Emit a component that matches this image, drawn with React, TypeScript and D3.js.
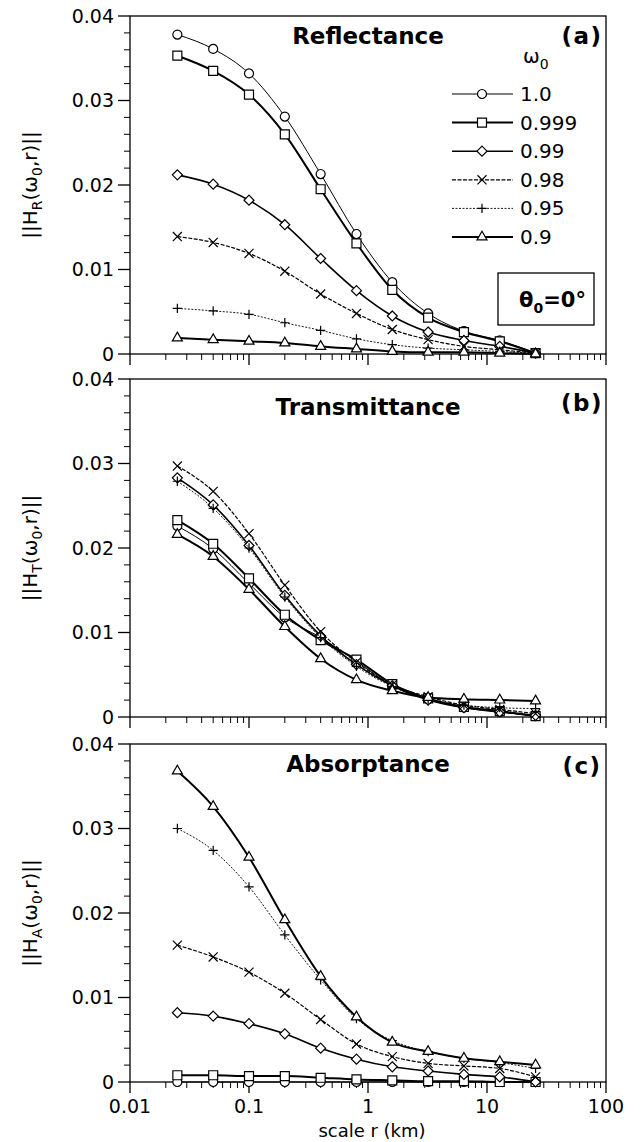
import React from 'react'
import * as d3 from 'd3'

const width = 644
const height = 1142

// scale r (km) of every point
const scales = [0.025, 0.05, 0.1, 0.2, 0.4, 0.8, 1.6, 3.2, 6.4, 12.8, 25.6]
const omegaLabels = ['1.0', '0.999', '0.99', '0.98', '0.95', '0.9']

// rows follow omegaLabels
const reflectance = [
  [0.0378, 0.0361, 0.0332, 0.0281, 0.0213, 0.0142, 0.0085, 0.0048, 0.0027, 0.0016, 0.0001],
  [0.0353, 0.0335, 0.0307, 0.026, 0.0195, 0.0131, 0.0076, 0.0043, 0.0026, 0.0015, 0.0001],
  [0.0212, 0.0201, 0.0182, 0.0153, 0.0113, 0.0075, 0.0045, 0.0026, 0.0016, 0.0009, 0.0001],
  [0.0139, 0.0132, 0.0119, 0.0098, 0.0071, 0.0048, 0.0029, 0.0017, 0.0009, 0.0005, 0.0001],
  [0.0054, 0.0051, 0.0047, 0.0037, 0.0028, 0.0018, 0.0011, 0.0007, 0.0005, 0.0003, 0.0001],
  [0.0019, 0.0017, 0.0015, 0.0013, 0.0009, 0.0006, 0.0003, 0.0002, 0.0002, 0.0001, 0.0],
]
const transmittance = [
  [0.0226, 0.0199, 0.0158, 0.0118, 0.0094, 0.0066, 0.0037, 0.0021, 0.0011, 0.0006, 0.0001],
  [0.0233, 0.0205, 0.0164, 0.0121, 0.0091, 0.0068, 0.0039, 0.0022, 0.0012, 0.0007, 0.0001],
  [0.0283, 0.0251, 0.0203, 0.0144, 0.0096, 0.0062, 0.0037, 0.002, 0.0011, 0.0006, 0.0002],
  [0.0297, 0.0267, 0.0217, 0.0156, 0.0101, 0.0065, 0.0038, 0.0024, 0.0014, 0.0009, 0.0004],
  [0.0279, 0.0247, 0.02, 0.0142, 0.0094, 0.006, 0.0036, 0.0021, 0.0014, 0.0011, 0.001],
  [0.0216, 0.019, 0.0151, 0.0107, 0.0069, 0.0044, 0.0031, 0.0023, 0.0021, 0.002, 0.0019],
]
const absorptance = [
  [0, 0, 0, 0, 0, 0, 0, 0, 0, 0, 0],
  [0.0008, 0.0008, 0.0007, 0.0007, 0.0005, 0.0003, 0.0002, 0.0001, 0.0001, 0.0, 0.0],
  [0.0082, 0.0078, 0.0069, 0.0057, 0.004, 0.0027, 0.0018, 0.0013, 0.0009, 0.0006, 0.0],
  [0.0162, 0.0148, 0.013, 0.0105, 0.0074, 0.0045, 0.003, 0.0022, 0.0019, 0.0016, 0.0006],
  [0.03, 0.0274, 0.0231, 0.0174, 0.0121, 0.0075, 0.0049, 0.0036, 0.0028, 0.0023, 0.0016],
  [0.0368, 0.0326, 0.0266, 0.0192, 0.0125, 0.0077, 0.0047, 0.0036, 0.0028, 0.0024, 0.002],
]

const yTicks = [0, 0.01, 0.02, 0.03, 0.04]
const xTicks = [0.01, 0.1, 1, 10, 100]
const xTickLabels = ['0.01', '0.1', '1', '10', '100']
const titles = ['Reflectance', 'Transmittance', 'Absorptance']
const tags = ['(a)', '(b)', '(c)']
const ySubs = ['R', 'T', 'A']

const font = '"DejaVu Sans", sans-serif'

const seriesStyle = [
  { symbol: d3.symbolCircle, size: 64, lw: 1, dash: undefined },
  { symbol: d3.symbolSquare2, size: 103, lw: 2, dash: undefined },
  { symbol: d3.symbolDiamond2, size: 64, lw: 1.6, dash: undefined },
  { symbol: d3.symbolTimes, size: 55, lw: 1.2, dash: '4,1.5' },
  { symbol: d3.symbolPlus, size: 30, lw: 0.9, dash: '2,1.5' },
  { symbol: d3.symbolTriangle2, size: 72, lw: 2, dash: undefined },
]

const left = 130
const right = 606
const panelH = 338
const panelTops = [16, 379, 744]
const titleDy = [28, 36, 28]
const tagDy = [28, 32, 30]

const x = d3.scaleLog().domain([0.01, 100]).range([left, right])

const minorX: number[] = []
for (let d = -2; d < 2; d++) for (let m = 2; m < 10; m++) minorX.push(m * Math.pow(10, d))
const minorY = d3.range(0.002, 0.04, 0.002).filter(v => Math.abs(v * 100 - Math.round(v * 100)) > 1e-6)

function Panel({ idx, data }: { idx: number, data: number[][] }) {
  const top = panelTops[idx]
  const y = d3.scaleLinear().domain([0, 0.04]).range([top + panelH, top])
  const line = d3.line<number>()
    .x((_, i) => x(scales[i]))
    .y(v => y(v))
    .curve(d3.curveMonotoneX)
  const bottom = top + panelH
  return (
    <g>
      {/* frame */}
      <rect x={left} y={top} width={right - left} height={panelH} fill="none" stroke="#000" strokeWidth={1.3} />
      {yTicks.map(t => (
        <g key={t}>
          <line x1={left - 12} x2={left} y1={y(t)} y2={y(t)} stroke="#000" strokeWidth={1.3} />
          <text x={left - 16} y={y(t)} dy="0.36em" textAnchor="end" fontSize={19} fontFamily={font}>{t === 0 ? '0' : t.toFixed(2)}</text>
        </g>
      ))}
      {minorY.map(t => (
        <line key={t} x1={left - 6} x2={left} y1={y(t)} y2={y(t)} stroke="#000" strokeWidth={1} />
      ))}
      {xTicks.map(t => (
        <line key={t} x1={x(t)} x2={x(t)} y1={bottom} y2={bottom + 11} stroke="#000" strokeWidth={1.3} />
      ))}
      {minorX.map(t => (
        <line key={t} x1={x(t)} x2={x(t)} y1={bottom} y2={bottom + 6} stroke="#000" strokeWidth={1} />
      ))}
      {idx === 2 && xTicks.map((t, i) => (
        <text key={t} x={x(t)} y={bottom + 31} textAnchor="middle" fontSize={19} fontFamily={font}>{xTickLabels[i]}</text>
      ))}
      <text x={(left + right) / 2} y={top + titleDy[idx]} textAnchor="middle" fontSize={23} fontWeight="bold" fontFamily={font}>{titles[idx]}</text>
      <text x={582} y={top + tagDy[idx]} textAnchor="middle" fontSize={23} fontWeight="bold" fontFamily={font} letterSpacing={1.5}>{tags[idx]}</text>
      <text transform={`translate(37,${top + panelH / 2}) rotate(-90)`} textAnchor="middle" fontSize={20} fontFamily={font}>
        ||H<tspan dy={5} fontSize={14}>{ySubs[idx]}</tspan><tspan dy={-5}>(ω</tspan><tspan dy={5} fontSize={14}>0</tspan><tspan dy={-5}>,r)||</tspan>
      </text>
      {data.map((row, s) => {
        const st = seriesStyle[s]
        const sym = d3.symbol().type(st.symbol).size(st.size)()
        return (
          <g key={s}>
            <path d={line(row) || ''} fill="none" stroke="#000" strokeWidth={st.lw} strokeDasharray={st.dash} />
            {row.map((v, i) => (
              <path key={i} d={sym || ''} transform={`translate(${x(scales[i])},${y(v)})`} fill="#fff" stroke="#000" strokeWidth={1.2} />
            ))}
          </g>
        )
      })}
    </g>
  )
}

function Legend() {
  const rowY = (i: number) => 94 + i * 28.6
  return (
    <g fontFamily={font}>
      <text x={523} y={63} fontSize={20}>ω<tspan dy={6} fontSize={14}>0</tspan></text>
      {omegaLabels.map((lab, i) => {
        const st = seriesStyle[i]
        const sym = d3.symbol().type(st.symbol).size(st.size)()
        return (
          <g key={lab}>
            <line x1={452} x2={513} y1={rowY(i)} y2={rowY(i)} stroke="#000" strokeWidth={st.lw} strokeDasharray={st.dash} />
            <path d={sym || ''} transform={`translate(482,${rowY(i)})`} fill="#fff" stroke="#000" strokeWidth={1.2} />
            <text x={520} y={rowY(i) + 7} fontSize={20}>{lab}</text>
          </g>
        )
      })}
      <rect x={498} y={273} width={96} height={52} fill="#fff" stroke="#000" strokeWidth={1.3} />
      <text x={519} y={307} fontSize={21} fontWeight="bold">θ<tspan dy={6} fontSize={14}>0</tspan><tspan dy={-6}>=0°</tspan></text>
    </g>
  )
}

export default function App() {
  const panels = [reflectance, transmittance, absorptance]
  return (
    <svg width={width} height={height} style={{ position: 'absolute', left: 0, top: 0, background: '#fff' }}>
      <rect width={width} height={height} fill="#fff" />
      {panels.map((d, i) => <Panel key={i} idx={i} data={d} />)}
      <Legend />
      <text x={372} y={1137} textAnchor="middle" fontSize={18} fontFamily={font}>scale r (km)</text>
    </svg>
  )
}
